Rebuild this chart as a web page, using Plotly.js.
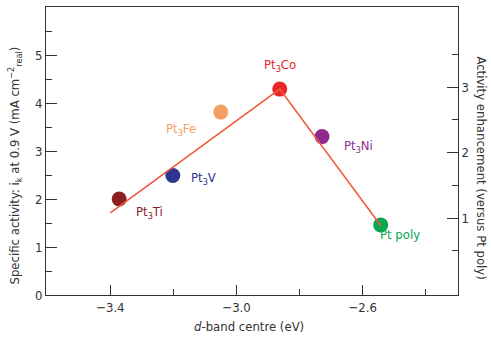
<!DOCTYPE html>
<html><head><meta charset="utf-8">
<script src="https://cdn.plot.ly/plotly-3.0.1.min.js"></script>
<style>html,body{margin:0;padding:0;background:#fff;}#c{width:491px;height:339px;}</style>
</head><body><div id="c"></div>
<script>
// Data
const names = ["Pt<sub>3</sub>Ti","Pt<sub>3</sub>V","Pt<sub>3</sub>Fe","Pt<sub>3</sub>Co","Pt<sub>3</sub>Ni","Pt poly"];
const dBand = [-3.372, -3.202, -3.050, -2.863, -2.729, -2.543];
const activity = [2.00, 2.49, 3.81, 4.29, 3.30, 1.46];
const trendX = [-3.40, -2.863, -2.543];
const trendY = [1.71, 4.29, 1.45];
const xTicks = [-3.4, -3.0, -2.6];
const xTickText = ["\u22123.4", "\u22123.0", "\u22122.6"];
const yTicks = [0, 1, 2, 3, 4, 5];
const y2Ticks = [1, 2, 3];

// Styles
const colors = ["#8b2020", "#2e3592", "#f4a064", "#e8262a", "#8e2a8e", "#0aa651"];
const labelColors = ["#8b2020", "#2e3592", "#f4a064", "#e8262a", "#8e2a8e", "#0aa651"];
const labelAnchor = ["left","left","right","center","left","center"];
const labelDx = [15, 16, -23, 0, 20, 19];
const labelDy = [-13, -3, -17, 24, -10, -10];

const FONT = "'DejaVu Sans Condensed', 'Liberation Sans Narrow', 'Arial Narrow', sans-serif";

const traces = [
  {x: dBand, y: activity, mode: "markers", type: "scatter",
   marker: {size: 15, color: colors, line: {width: 0}}, hoverinfo: "skip", showlegend: false},
  {x: trendX, y: trendY, mode: "lines", type: "scatter",
   line: {color: "#f05a3c", width: 1.6}, hoverinfo: "skip", showlegend: false},
  {x: [dBand[0]], y: [1], yaxis: "y2", mode: "markers", marker: {opacity: 0}, hoverinfo: "skip", showlegend: false}
];

const annotations = names.map((n, i) => ({
  x: dBand[i], y: activity[i], xref: "x", yref: "y", text: n, showarrow: false,
  xanchor: labelAnchor[i], yanchor: "middle", xshift: labelDx[i], yshift: labelDy[i],
  font: {family: FONT, size: 13, color: labelColors[i]}
}));
annotations.push({
  xref: "paper", yref: "paper", x: -0.075, y: 0.45, xanchor: "center", yanchor: "middle",
  text: "Specific activity: i<sub>k</sub> at 0.9 V (mA cm<sup>\u22122</sup><sub>real</sub>)",
  textangle: -90, showarrow: false, font: {family: FONT, size: 13, color: "#333"}
});
annotations.push({
  xref: "paper", yref: "paper", x: 1.058, y: 0.44, xanchor: "center", yanchor: "middle",
  text: "Activity enhancement (versus Pt poly)",
  textangle: 90, showarrow: false, font: {family: FONT, size: 13, color: "#333"}
});
annotations.push({
  xref: "paper", yref: "paper", x: 0.492, y: -0.108, xanchor: "center", yanchor: "middle",
  text: "<i>d</i>-band centre (eV)", showarrow: false, font: {family: FONT, size: 13, color: "#333"}
});

const layout = {
  width: 491, height: 339,
  margin: {l: 46, r: 33, t: 7, b: 44, pad: 0},
  paper_bgcolor: "#fff", plot_bgcolor: "#fff",
  font: {family: FONT, size: 13, color: "#333"},
  xaxis: {range: [-3.604, -2.298], tickvals: xTicks, ticktext: xTickText,
    ticks: "inside", ticklen: 10, tickwidth: 1, tickcolor: "#333",
    minor: {tickvals: [-3.2, -2.8, -2.4], ticks: "inside", ticklen: 6, tickcolor: "#333"},
    showline: true, linecolor: "#333", linewidth: 1, mirror: true,
    showgrid: false, zeroline: false, fixedrange: true, tickfont: {size: 13, color: "#333"}},
  yaxis: {range: [0, 6], tickvals: yTicks,
    ticks: "inside", ticklen: 11, tickwidth: 1, tickcolor: "#333",
    minor: {tickvals: [0.5, 1.5, 2.5, 3.5, 4.5, 5.5], ticks: "inside", ticklen: 6, tickcolor: "#333"},
    showline: true, linecolor: "#333", linewidth: 1,
    showgrid: false, zeroline: false, fixedrange: true, tickfont: {size: 13, color: "#333"}},
  yaxis2: {overlaying: "y", side: "right", range: [-0.174, 4.226], tickvals: y2Ticks,
    ticks: "inside", ticklen: 11, tickwidth: 1, tickcolor: "#333",
    minor: {tickvals: [0.5, 1.5, 2.5, 3.5], ticks: "inside", ticklen: 6, tickcolor: "#333"},
    showline: true, linecolor: "#333", linewidth: 1,
    showgrid: false, zeroline: false, fixedrange: true, tickfont: {size: 13, color: "#333"}},
  annotations: annotations,
  showlegend: false
};

Plotly.newPlot("c", traces, layout, {staticPlot: true, displayModeBar: false});
</script>
</body></html>
